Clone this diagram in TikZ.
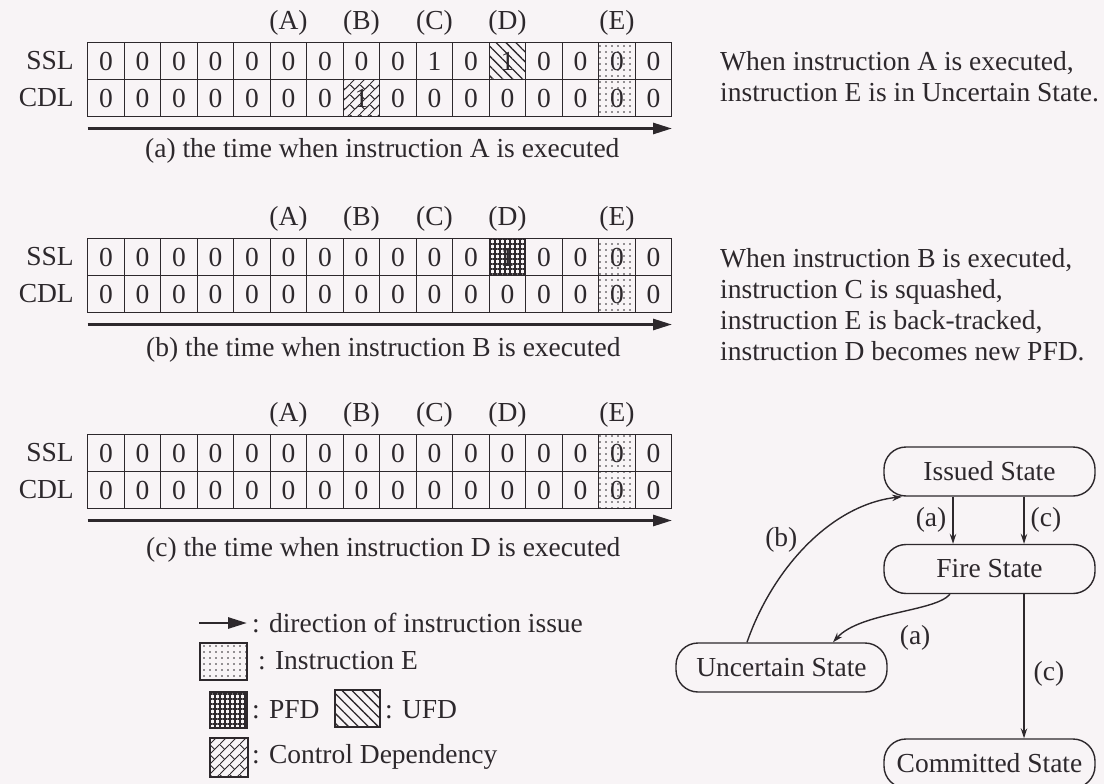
\documentclass[tikz,border=0pt]{standalone}
\usepackage{fontspec}
\setmainfont{Liberation Serif}
\usetikzlibrary{patterns.meta,arrows.meta}
\definecolor{bg}{RGB}{248,244,246}
\definecolor{ink}{RGB}{45,40,44}
\newcommand\fnt{\fontsize{27.5}{31}\selectfont}

\tikzdeclarepattern{
  name=ctrldep,
  type=uncolored,
  bounding box={(0,0) and (10pt,10pt)},
  tile size={(10pt,10pt)},
  code={
    \draw[line width=1.1pt] (-1pt,-1pt) -- (11pt,11pt);
    \draw[line width=1.1pt] (5pt,5pt) -- (0pt,10pt);
  }
}

\tikzset{
  lbl/.style={font=\fnt, text=ink, inner sep=0pt},
  cell/.style={draw=ink, line width=1.4pt, minimum width=36.5pt, minimum height=37pt, inner sep=0pt, text=ink, font=\fnt},
  cp/.style={},
  ce/.style={pattern={Dots[distance=6pt,radius=0.8pt]}, pattern color=ink},
  cu/.style={pattern={Lines[angle=-45,distance=7pt,line width=1.3pt]}, pattern color=ink},
  cf/.style={pattern={Hatch[angle=0,distance=5pt,line width=1.3pt]}, pattern color=ink},
  cc/.style={pattern=ctrldep, pattern color=ink},
  tarrow/.style={draw=ink, line width=2.8pt, -{Triangle[length=19pt,width=11pt]}},
  sarrow/.style={draw=ink, line width=1.4pt, -{Stealth[length=10pt,width=6.5pt]}},
  state/.style={draw=ink, line width=1.4pt, rounded corners=22pt, minimum width=211pt, minimum height=49pt, font=\fnt, text=ink, inner sep=0pt},
  lbox/.style={draw=ink, line width=1.4pt, inner sep=0pt},
}

% #1 name, #2 top, #3 SSL list, #4 CDL list
\newcommand\mktable[4]{%
  \foreach \s/\v [count=\i from 0] in {#3} {
    \node[cell,\s] (#1-s-\i) at ({105.95+36.5*\i},{#2+18.5}) {\v};
  }
  \foreach \s/\v [count=\i from 0] in {#4} {
    \node[cell,\s] (#1-c-\i) at ({105.95+36.5*\i},{#2+55.5}) {\v};
  }
  \node[lbl,anchor=east] (#1-sl) at (74,{#2+18.5}) {SSL};
  \node[lbl,anchor=east] (#1-cl) at (74,{#2+55.5}) {CDL};
  \node[lbl] (#1-hA) at (288.45,{#2-20}) {(A)};
  \node[lbl] (#1-hB) at (361.45,{#2-20}) {(B)};
  \node[lbl] (#1-hC) at (434.45,{#2-20}) {(C)};
  \node[lbl] (#1-hD) at (507.45,{#2-20}) {(D)};
  \node[lbl] (#1-hE) at (616.95,{#2-20}) {(E)};
  \coordinate (#1-al) at (87.7,{#2+86});
  \coordinate (#1-ar) at (672,{#2+86});
  \draw[tarrow] (#1-al) -- (#1-ar);
}

\begin{document}
\begin{tikzpicture}[x=1pt,y=-1pt]
\useasboundingbox (0,0) rectangle (1104,784);
\fill[bg] (0,0) rectangle (1104,784);

% ---- table (a)
\mktable{a}{42.5}
 {cp/0,cp/0,cp/0,cp/0,cp/0,cp/0,cp/0,cp/0,cp/0,cp/1,cp/0,cu/1,cp/0,cp/0,ce/0,cp/0}
 {cp/0,cp/0,cp/0,cp/0,cp/0,cp/0,cp/0,cc/1,cp/0,cp/0,cp/0,cp/0,cp/0,cp/0,ce/0,cp/0}
\node[lbl,anchor=west] (capa) at (145,151) {(a) the time when instruction A is executed};

% ---- table (b)
\mktable{b}{238.5}
 {cp/0,cp/0,cp/0,cp/0,cp/0,cp/0,cp/0,cp/0,cp/0,cp/0,cp/0,cf/1,cp/0,cp/0,ce/0,cp/0}
 {cp/0,cp/0,cp/0,cp/0,cp/0,cp/0,cp/0,cp/0,cp/0,cp/0,cp/0,cp/0,cp/0,cp/0,ce/0,cp/0}
\node[lbl,anchor=west] (capb) at (146,350) {(b) the time when instruction B is executed};

% ---- table (c)
\mktable{c}{434.5}
 {cp/0,cp/0,cp/0,cp/0,cp/0,cp/0,cp/0,cp/0,cp/0,cp/0,cp/0,cp/0,cp/0,cp/0,ce/0,cp/0}
 {cp/0,cp/0,cp/0,cp/0,cp/0,cp/0,cp/0,cp/0,cp/0,cp/0,cp/0,cp/0,cp/0,cp/0,ce/0,cp/0}
\node[lbl,anchor=west] (capc) at (146,550) {(c) the time when instruction D is executed};

% ---- right texts
\node[lbl,align=left,anchor=west] (ta) at (720,77)
  {When instruction A is executed,\\instruction E is in Uncertain State.};
\node[lbl,align=left,anchor=west] (tb) at (720,304.5)
  {When instruction B is executed,\\instruction C is squashed,\\instruction E is back-tracked,\\instruction D becomes new PFD.};

% ---- legend
\coordinate (lg-as) at (199,623);
\coordinate (lg-ae) at (247,623);
\draw[tarrow] (lg-as) -- (lg-ae);
\node[lbl,anchor=west] (lg-at) at (252,623) {: direction of instruction issue};
\node[lbox,ce,minimum width=47pt,minimum height=37pt] (lg-e) at (223.5,661.5) {};
\node[lbl,anchor=west] (lg-et) at (258,661) {: Instruction E};
\node[lbox,cf,minimum width=37pt,minimum height=36pt] (lg-p) at (228.5,710) {};
\node[lbl,anchor=west] (lg-pt) at (252,710) {: PFD};
\node[lbox,cu,minimum width=45pt,minimum height=37pt] (lg-u) at (357.5,708.5) {};
\node[lbl,anchor=west] (lg-ut) at (385,710) {: UFD};
\node[lbox,cc,minimum width=38pt,minimum height=39pt] (lg-c) at (229,757.5) {};
\node[lbl,anchor=west] (lg-ct) at (252,757) {: Control Dependency};

% ---- state diagram
\node[state] (iss) at (989.5,471.5) {Issued State};
\node[state] (fire) at (989.5,569) {Fire State};
\node[state] (unc) at (781.5,667.5) {Uncertain State};
\node[state] (com) at (989.5,763.5) {Committed State};

\draw[sarrow] ([xshift=-36.5pt]iss.south) -- ([xshift=-36.5pt]fire.north)
  node[lbl,midway,left=6pt] {(a)};
\draw[sarrow] ([xshift=34.5pt]iss.south) -- ([xshift=34.5pt]fire.north)
  node[lbl,midway,right=6pt] {(c)};
\draw[sarrow] ([xshift=34.5pt]fire.south) -- ([xshift=34.5pt]com.north)
  node[lbl,pos=0.55,right=9pt] {(c)};
\draw[sarrow] ([xshift=-39.5pt]fire.south) .. controls (935,612) and (860,612) .. ([xshift=51.5pt]unc.north)
  node[lbl,pos=0.4,anchor=north,xshift=5pt,yshift=-15pt] {(a)};
\draw[sarrow] ([xshift=-34.5pt]unc.north) .. controls (772,570) and (830,505) .. ([xshift=-87.5pt]iss.south)
  node[lbl,pos=0.45,anchor=south east,inner sep=1pt] {(b)};
\end{tikzpicture}
\end{document}
